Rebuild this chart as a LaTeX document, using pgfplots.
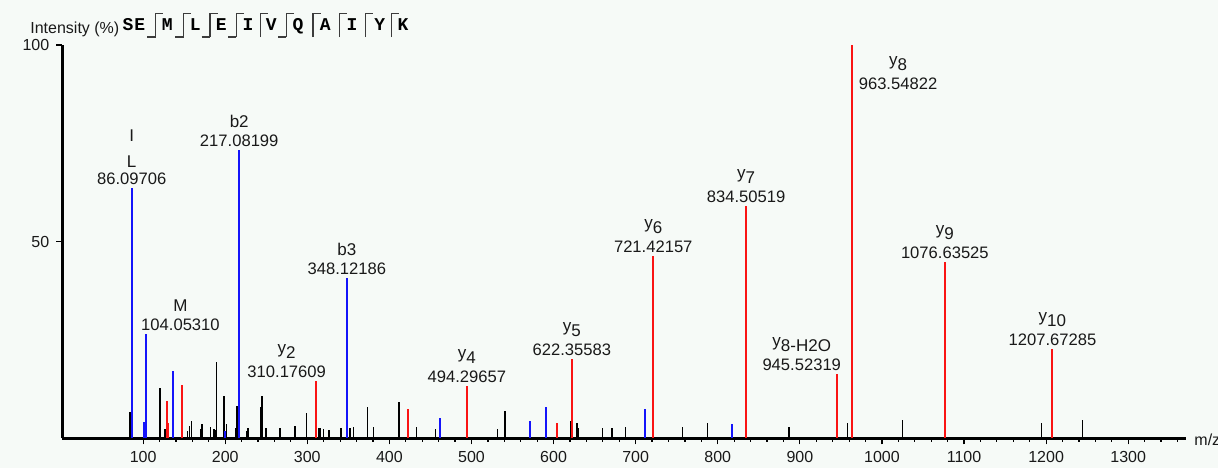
\documentclass[border=0pt]{standalone}
\usepackage{fontspec}
\setmainfont{Liberation Sans}
\newfontfamily\seqfont{Liberation Mono}
\usepackage{pgfplots}
\pgfplotsset{compat=1.18}
\definecolor{bg}{RGB}{246,250,247}
\definecolor{pkblue}{RGB}{20,20,250}
\definecolor{pkred}{RGB}{250,20,20}
\definecolor{lbl}{RGB}{25,25,25}
\definecolor{seqline}{RGB}{60,60,60}

\pgfplotstableread{
x y
86.097 63.6
101.5 4.2
103.0 8.9
104.053 26.5
136.4 17.2
200.1 2.0
217.082 73.3
348.122 40.7
461.3 5.3
571.3 4.3
590.4 7.9
711.0 7.6
817.7 3.6
}\bluepk

\pgfplotstableread{
x y
128.7 9.6
130.0 4.0
147.7 13.6
310.176 14.6
423.0 7.6
494.297 13.3
604.6 4.0
622.356 20.2
721.422 46.4
834.505 59.1
945.523 16.3
963.548 100
1076.635 44.8
1207.673 22.7
}\redpk

\pgfplotstableread{
x y
84.0 6.6
120.6 12.9
126.7 2.3
154.3 2.0
156.8 3.2
158.7 4.4
170.2 2.3
171.7 3.6
182.3 3.0
186.4 2.3
188.0 2.1
189.2 19.5
198.5 10.9
201.8 3.6
213.2 2.6
214.4 8.2
226.2 2.0
227.8 2.7
243.2 7.9
244.8 10.9
249.7 2.6
266.8 2.6
285.0 3.2
299.3 6.4
313.6 2.6
315.6 2.6
319.7 2.4
326.3 2.1
340.9 2.6
352.3 2.6
356.4 3.0
373.4 7.9
380.7 3.0
411.7 9.2
432.8 3.0
456.4 2.5
531.7 2.4
540.8 7.0
620.4 4.3
628.5 4.0
630.1 2.6
659.8 2.6
671.1 2.6
687.4 3.0
757.3 3.0
787.8 4.0
886.8 3.0
957.8 4.0
1024.8 4.7
1194.6 4.0
1244.5 4.7
}\blackpk

\newcommand{\sub}[1]{\raisebox{-2.5pt}{#1}}

\begin{document}
\begin{tikzpicture}[
  numlbl/.style={anchor=south, inner sep=0pt, font=\fontsize{8.3}{9}\selectfont, text=lbl, yshift=1.5pt},
  ionlbl/.style={anchor=south, inner sep=0pt, font=\fontsize{8.5}{10}\selectfont, text=lbl, yshift=11pt},
]
\begin{scope}[x=0.5pt,y=-0.5pt,shift={(-31.15pt,219.2pt)}]
\fill[bg] (0,0) rectangle (1218,468);
\end{scope}
\begin{axis}[
  at={(0pt,0pt)}, anchor=south west,
  scale only axis, width=561.85pt, height=196.7pt,
  xmin=1.56, xmax=1370.4, ymin=0, ymax=100,
  axis x line*=bottom, axis y line*=left,
  axis line style={line width=1.3pt, black},
  xtick={100,200,...,1300}, ytick={50,100},
  minor xtick={120,140,...,1360},
  tick align=outside,
  major tick length=3pt, minor tick length=1.6pt,
  every tick/.style={black, line width=0.6pt},
  tick label style={font=\fontsize{8}{9}\selectfont, text=lbl},
  /pgf/number format/assume math mode=true,
  /pgf/number format/1000 sep={},
  clip=false,
]
\addplot[ycomb, mark=none, black, line width=0.75pt] table {\blackpk};
\addplot[ycomb, mark=none, pkblue, line width=1pt] table {\bluepk};
\addplot[ycomb, mark=none, pkred, line width=1pt] table {\redpk};

% annotations
\node[numlbl] at (axis cs:86.097,63.6) {86.09706};
\node[ionlbl, yshift=-0.8pt] at (axis cs:86.097,63.6) {L};
\node[ionlbl, yshift=12.2pt] at (axis cs:86.097,63.6) {I};
\node[numlbl] at (axis cs:145.5,26.5) {104.05310};
\node[ionlbl] at (axis cs:145.5,26.5) {M};
\node[numlbl] at (axis cs:217.082,73.3) {217.08199};
\node[ionlbl] at (axis cs:217.082,73.3) {b2};
\node[numlbl] at (axis cs:348.122,40.7) {348.12186};
\node[ionlbl] at (axis cs:348.122,40.7) {b3};
\node[numlbl] at (axis cs:274.9,14.6) {310.17609};
\node[ionlbl] at (axis cs:274.9,14.6) {y\sub{2}};
\node[numlbl] at (axis cs:494.297,13.3) {494.29657};
\node[ionlbl] at (axis cs:494.297,13.3) {y\sub{4}};
\node[numlbl] at (axis cs:622.356,20.2) {622.35583};
\node[ionlbl] at (axis cs:622.356,20.2) {y\sub{5}};
\node[numlbl] at (axis cs:721.422,46.4) {721.42157};
\node[ionlbl] at (axis cs:721.422,46.4) {y\sub{6}};
\node[numlbl] at (axis cs:834.505,59.1) {834.50519};
\node[ionlbl] at (axis cs:834.505,59.1) {y\sub{7}};
\node[numlbl] at (axis cs:902.3,16.3) {945.52319};
\node[ionlbl] at (axis cs:902.3,16.3) {y\sub{8-H2O}};
\node[numlbl] at (axis cs:1019.6,87.7) {963.54822};
\node[ionlbl] at (axis cs:1019.6,87.7) {y\sub{8}};
\node[numlbl] at (axis cs:1076.635,44.8) {1076.63525};
\node[ionlbl] at (axis cs:1076.635,44.8) {y\sub{9}};
\node[numlbl] at (axis cs:1207.673,22.7) {1207.67285};
\node[ionlbl] at (axis cs:1207.673,22.7) {y\sub{10}};
\end{axis}

\begin{scope}[x=0.5pt,y=-0.5pt,shift={(-31.15pt,219.2pt)}]
\node[anchor=base west, inner sep=0pt, font=\fontsize{8}{9}\selectfont, text=lbl] at (30,33.5) {Intensity (\%)};
\node[anchor=west, inner sep=0pt, font=\fontsize{8}{9}\selectfont, text=lbl] at (1194,440) {m/z};
% sequence letters
\foreach \xx/\ll in {128/S,139.7/E,167.3/M,195.3/L,221.3/E,248/I,271.3/V,298/Q,325.3/A,352/I,379.7/Y,403/K}
  \node[anchor=base, inner sep=0pt, font=\seqfont\bfseries\fontsize{9}{10}\selectfont, text=black] at (\xx,30.5) {\ll};
% fragment markers: top-right hooks (all), bottom-left hooks (some)
\foreach \xx in {155.7,183.7,210,236.3,260.7,286.3,313,339.7,365.3,391.3}
  \draw[seqline, line width=0.55pt] (\xx,37) -- (\xx,13.7) -- (\xx+7.5,13.7);
\foreach \xx in {155.7,183.7,210,236.3,286.3}
  \draw[seqline, line width=0.55pt] (\xx-8.3,37) -- (\xx,37);
\end{scope}
\pgfresetboundingbox
\path[use as bounding box] (-31.15pt,-14.8pt) rectangle (577.85pt,219.2pt);
\end{tikzpicture}
\end{document}
